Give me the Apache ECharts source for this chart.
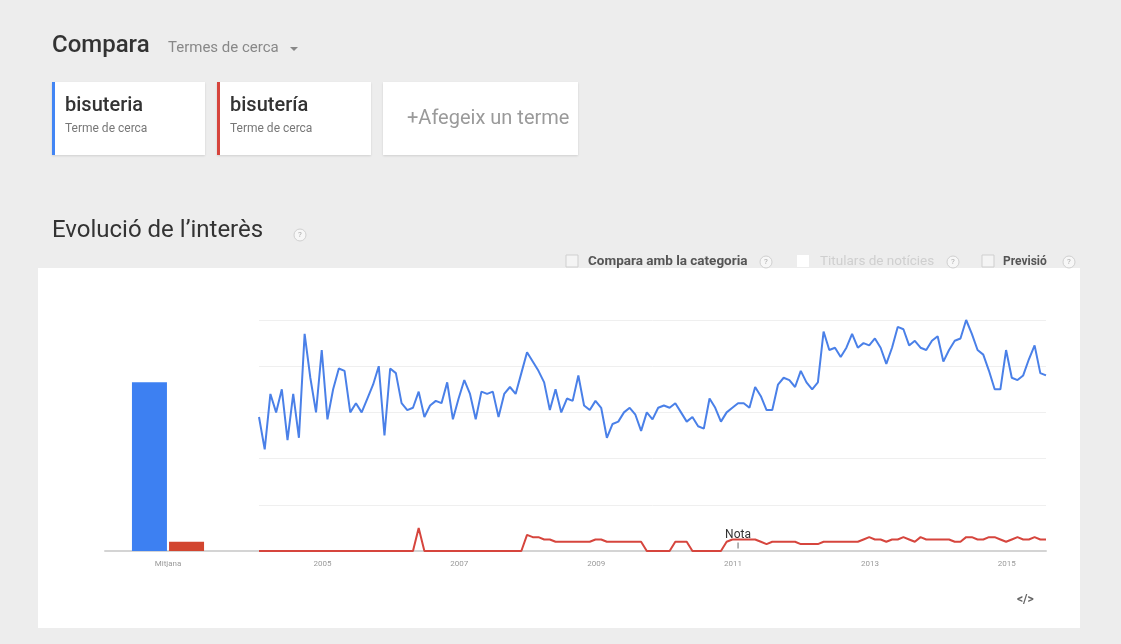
<!DOCTYPE html>
<html>
<head>
<meta charset="utf-8">
<script src="https://cdn.jsdelivr.net/npm/echarts@6/dist/echarts.min.js"></script>
<style>
  html, body { margin: 0; padding: 0; background: #ededed; }
  #main { width: 1121px; height: 644px; }
</style>
</head>
<body>
<div id="main"></div>
<script>
// termes comparats
const termNames = ['bisuteria', 'bisutería'];
const avgLabels = ['Mitjana'];
// mitjana de tot el periode
const avgBlue = [73];
const avgRed = [4];

const startYear = 2004;
// interes mensual, gener 2004 - juliol 2015 (llegit del grafic)
const blueSeries = [
  58, 44, 68, 60, 70, 48, 68, 49, 94, 75, 60, 87,
  57, 70, 79, 78, 60, 64, 60, 66, 72, 80, 50, 79,
  77, 64, 61, 62, 69, 58, 63, 65, 64, 73, 57, 66,
  74, 68, 57, 69, 68, 69, 58, 68, 71, 68, 77, 86,
  82, 78, 73, 61, 70, 60, 66, 65, 76, 63, 61, 65,
  62, 49, 55, 56, 60, 62, 59, 52, 60, 57, 62, 63,
  62, 64, 60, 56, 58, 54, 53, 66, 62, 56, 60, 62,
  64, 64, 62, 71, 67, 61, 61, 72, 75, 74, 71, 78,
  73, 70, 73, 95, 87, 88, 84, 88, 94, 88, 90, 89,
  92, 88, 81, 88, 97, 96, 89, 91, 88, 87, 91, 93,
  82, 87, 91, 92, 100, 94, 87, 85, 78, 70, 70, 87,
  75, 74, 76, 83, 89, 77, 76
];
const redSeries = [
  0, 0, 0, 0, 0, 0, 0, 0, 0, 0, 0, 0,
  0, 0, 0, 0, 0, 0, 0, 0, 0, 0, 0, 0,
  0, 0, 0, 0, 10, 0, 0, 0, 0, 0, 0, 0,
  0, 0, 0, 0, 0, 0, 0, 0, 0, 0, 0, 7,
  6, 6, 5, 5, 4, 4, 4, 4, 4, 4, 4, 5,
  5, 4, 4, 4, 4, 4, 4, 4, 0, 0, 0, 0,
  0, 4, 4, 4, 0, 0, 0, 0, 0, 0, 4, 5,
  5, 5, 5, 5, 4, 3, 4, 4, 4, 4, 4, 3,
  3, 3, 3, 4, 4, 4, 4, 4, 4, 4, 5, 6,
  5, 5, 4, 5, 5, 6, 5, 4, 6, 5, 5, 5,
  5, 5, 4, 4, 6, 6, 5, 5, 6, 6, 5, 4,
  5, 6, 5, 5, 6, 5, 5
];
// anotacio "Nota"
const noteMonth = '2011-01';
const noteValue = 2.4;

const BLUE = '#4a80e8';
const RED = '#d6453d';
const FONT = 'Roboto, "Noto Sans", sans-serif';

// mesos "AAAA-MM"
let months = [];
for (let i = 0; i < blueSeries.length; i++) {
  let y = startYear + Math.floor(i / 12);
  let m = (i % 12) + 1;
  months.push(y + '-' + (m < 10 ? '0' + m : m));
}

function txt(x, y, text, size, color, weight, extra) {
  return Object.assign({
    type: 'text', x: x, y: y,
    style: {
      text: text, fontSize: size, fontFamily: FONT, fill: color,
      fontWeight: weight || 'normal', verticalAlign: 'middle'
    }
  }, extra || {});
}

function help(x, y) {
  return {
    type: 'group', x: x, y: y,
    children: [
      { type: 'circle', shape: { cx: 0, cy: 0, r: 6 }, style: { fill: '#f7f7f7', stroke: '#d0d0d0', lineWidth: 1 } },
      { type: 'text', x: 0, y: 0, style: { text: '?', fontSize: 8, fill: '#aaa', align: 'center', verticalAlign: 'middle', fontFamily: FONT } }
    ]
  };
}

function termCard(x, w, color, name) {
  let children = [
    { type: 'rect', shape: { x: 0, y: 0, width: w, height: 73 }, style: { fill: '#fff', shadowBlur: 2, shadowColor: 'rgba(0,0,0,0.12)', shadowOffsetY: 1 } }
  ];
  if (color) {
    children.push({ type: 'rect', shape: { x: 0, y: 0, width: 3, height: 73 }, style: { fill: color } });
    children.push(txt(13, 24, name, 20, '#333', 500));
    children.push(txt(13, 47, 'Terme de cerca', 12, '#777'));
  } else {
    children.push(txt(24, 37, name, 20, '#9a9a9a'));
  }
  return { type: 'group', x: x, y: 82, children: children };
}

let chart = echarts.init(document.getElementById('main'));

let option = {
  backgroundColor: '#ededed',
  animation: false,
  textStyle: { fontFamily: FONT },
  graphic: [
    { type: 'rect', z: -10, shape: { x: 38, y: 268, width: 1042, height: 360 }, style: { fill: '#fff' } },
    txt(52, 46, 'Compara', 24, '#333', 500),
    txt(168, 48, 'Termes de cerca', 15, '#888'),
    { type: 'polygon', shape: { points: [[290, 47], [298, 47], [294, 51]] }, style: { fill: '#888' } },
    termCard(52, 153, '#4285f4', termNames[0]),
    termCard(217, 154, '#d6453d', termNames[1]),
    termCard(383, 195, null, '+Afegeix un terme'),
    txt(52, 231, 'Evolució de l\u2019interès', 24, '#333'),
    help(300, 235),
    { type: 'rect', shape: { x: 566, y: 255, width: 12, height: 12 }, style: { fill: '#f4f4f4', stroke: '#cfcfcf' } },
    txt(588, 262, 'Compara amb la categoria', 13.5, '#555', 'bold'),
    help(766, 262),
    { type: 'rect', shape: { x: 797, y: 255, width: 12, height: 12 }, style: { fill: '#fff' } },
    txt(820, 262, 'Titulars de notícies', 13.5, '#cfcfcf'),
    help(953, 262),
    { type: 'rect', shape: { x: 982, y: 255, width: 12, height: 12 }, style: { fill: '#f4f4f4', stroke: '#cfcfcf' } },
    txt(1003, 262, 'Previsió', 12, '#555', 'bold'),
    help(1069, 262),
    { type: 'line', shape: { x1: 231, y1: 551, x2: 259, y2: 551 }, style: { stroke: '#d4d4d4', lineWidth: 2 } },
    txt(1017, 600, '</>', 12, '#666', 'bold')
  ],
  grid: [
    { left: 105, width: 126, top: 320, bottom: 93 },
    { left: 259, right: 75, top: 320, bottom: 93 }
  ],
  xAxis: [
    {
      type: 'category', gridIndex: 0, data: avgLabels,
      axisTick: { show: false },
      axisLine: { lineStyle: { color: '#d4d4d4', width: 2 } },
      axisLabel: { color: '#9a9a9a', fontSize: 8, margin: 9 }
    },
    {
      type: 'category', gridIndex: 1, data: months, boundaryGap: false,
      axisTick: { show: false },
      axisLine: { lineStyle: { color: '#d4d4d4', width: 2 } },
      axisLabel: {
        color: '#9a9a9a', fontSize: 8, margin: 9, padding: [0, 10, 0, 0],
        interval: function(idx, val) {
          return val.slice(5) === '01' && (+val.slice(0, 4)) % 2 === 1;
        },
        formatter: function(val) { return val.slice(0, 4); }
      }
    }
  ],
  yAxis: [
    { type: 'value', gridIndex: 0, min: 0, max: 100, interval: 20, show: false },
    {
      type: 'value', gridIndex: 1, min: 0, max: 100, interval: 20,
      axisLine: { show: false }, axisTick: { show: false }, axisLabel: { show: false },
      splitLine: { lineStyle: { color: '#efefef', width: 1 } }
    }
  ],
  series: [
    {
      name: termNames[0], type: 'bar', xAxisIndex: 0, yAxisIndex: 0,
      data: avgBlue, barWidth: 35, barGap: '6%',
      itemStyle: { color: '#3d80f2' }
    },
    {
      name: termNames[1], type: 'bar', xAxisIndex: 0, yAxisIndex: 0,
      data: avgRed, barWidth: 35,
      itemStyle: { color: '#d2452f' }
    },
    {
      name: termNames[0], type: 'line', xAxisIndex: 1, yAxisIndex: 1,
      data: blueSeries, symbol: 'none',
      lineStyle: { color: BLUE, width: 2 }
    },
    {
      name: termNames[1], type: 'line', xAxisIndex: 1, yAxisIndex: 1,
      data: redSeries, symbol: 'none',
      lineStyle: { color: RED, width: 2 },
      markPoint: {
        symbol: 'rect', symbolSize: [1, 6],
        itemStyle: { color: '#666' },
        label: { show: true, position: 'top', formatter: 'Nota', color: '#333', fontSize: 12, distance: 1 },
        data: [{ coord: [noteMonth, noteValue] }]
      }
    }
  ]
};

if (option && typeof option === 'object') {
  chart.setOption(option);
}
</script>
</body>
</html>
